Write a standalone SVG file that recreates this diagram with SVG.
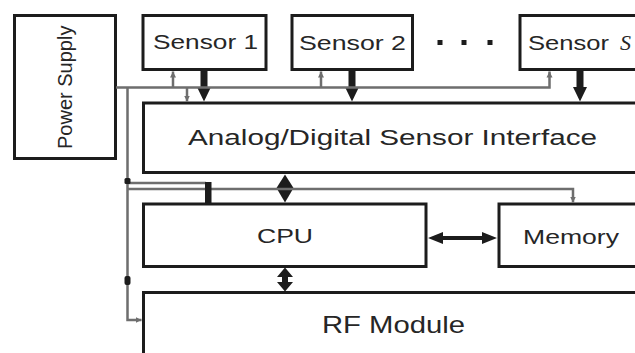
<svg xmlns="http://www.w3.org/2000/svg" width="635" height="353" viewBox="0 0 635 353">
<style>
.box{fill:#fff;stroke:#1c1c1c;stroke-width:3}
.t{font-family:"Liberation Sans",Arial,Helvetica,sans-serif;fill:#262626}
.pw{fill:none;stroke:#6e6e6e;stroke-width:2.5}
.blk{fill:#1c1c1c}
</style>
<defs>
<marker id="ga" markerUnits="userSpaceOnUse" markerWidth="7" markerHeight="7" refX="6" refY="3.5" orient="auto">
<path d="M0,0.5 L6,3.5 L0,6.5 z" fill="#6e6e6e"/>
</marker>
</defs>
<rect width="635" height="353" fill="#fff"/>

<g id="power-supply">
<rect class="box" x="14.5" y="15.5" width="101" height="143"/>
<text class="t" font-size="20" transform="translate(72,149) rotate(-90)">Power Supply</text>
</g>
<g id="sensor-1">
<rect class="box" x="143" y="15.5" width="123" height="54"/>
<text class="t" font-size="21" x="153" y="49" textLength="105" lengthAdjust="spacingAndGlyphs">Sensor 1</text>
</g>
<g id="sensor-2">
<rect class="box" x="292" y="15.5" width="120.5" height="54"/>
<text class="t" font-size="21" x="299" y="50" textLength="107" lengthAdjust="spacingAndGlyphs">Sensor 2</text>
</g>
<g id="ellipsis">
<rect class="blk" x="437.5" y="40" width="5" height="5"/>
<rect class="blk" x="461.5" y="40" width="5" height="5"/>
<rect class="blk" x="487.5" y="40" width="5" height="5"/>
</g>
<g id="sensor-s">
<rect class="box" x="520" y="15.5" width="130" height="54"/>
<text class="t" font-size="21" x="528" y="50"><tspan textLength="81" lengthAdjust="spacingAndGlyphs">Sensor</tspan><tspan x="620" font-family="'Liberation Serif','Times New Roman',serif" font-style="italic" font-size="22">S</tspan></text>
</g>
<g id="sensor-interface">
<rect class="box" x="143.5" y="103" width="600" height="69.5"/>
<text class="t" font-size="22" x="188" y="145" textLength="409" lengthAdjust="spacingAndGlyphs">Analog/Digital Sensor Interface</text>
</g>
<g id="cpu">
<rect class="box" x="143.5" y="204" width="282.5" height="62.5"/>
<text class="t" font-size="20" x="257" y="243" textLength="56" lengthAdjust="spacingAndGlyphs">CPU</text>
</g>
<g id="memory">
<rect class="box" x="499" y="204" width="200" height="62.5"/>
<text class="t" font-size="21" x="523" y="244" textLength="96" lengthAdjust="spacingAndGlyphs">Memory</text>
</g>
<g id="rf-module">
<rect class="box" x="143.5" y="292.5" width="600" height="100"/>
<text class="t" font-size="24" x="322" y="333" textLength="143" lengthAdjust="spacingAndGlyphs">RF Module</text>
</g>

<g id="connectors">
<polygon class="blk" points="200.5,70 207.5,70 207.5,87 211,87 204,101.5 197,87 200.5,87"/>
<polygon class="blk" points="348.5,70 355.5,70 355.5,87 359,87 352,101.5 345,87 348.5,87"/>
<polygon class="blk" points="576.5,70 583.5,70 583.5,87 587,87 580,101.5 573,87 576.5,87"/>
<polygon class="blk" points="285,174.5 293.5,188 285,202.5 276.5,188"/>
<polygon class="blk" points="285,267.5 293,277 288,277 288,282 293,282 285,291.5 277,282 282,282 282,277 277,277"/>
<polygon class="blk" points="428,238 443,232 443,236 482,236 482,232 497,238 482,244 482,240 443,240 443,244"/>
<path class="pw" d="M116,87.5 H549.5 V71.5" marker-end="url(#ga)"/>
<path class="pw" d="M173,87.5 V71.5" marker-end="url(#ga)"/>
<path class="pw" d="M321,87.5 V71.5" marker-end="url(#ga)"/>
<path class="pw" d="M187,87.5 V101.5" marker-end="url(#ga)"/>
<path class="pw" d="M127.5,87.5 V320 H141.5" marker-end="url(#ga)"/>
<path class="pw" d="M127.5,183 H206"/>
<path class="pw" d="M127.5,189 H573 V202.5" marker-end="url(#ga)"/>
<rect class="blk" x="205" y="182" width="6.5" height="21"/>
<rect class="blk" x="124.5" y="178" width="6" height="6" rx="1.5"/>
<rect class="blk" x="124.5" y="276" width="6" height="9" rx="2"/>
</g>
</svg>
